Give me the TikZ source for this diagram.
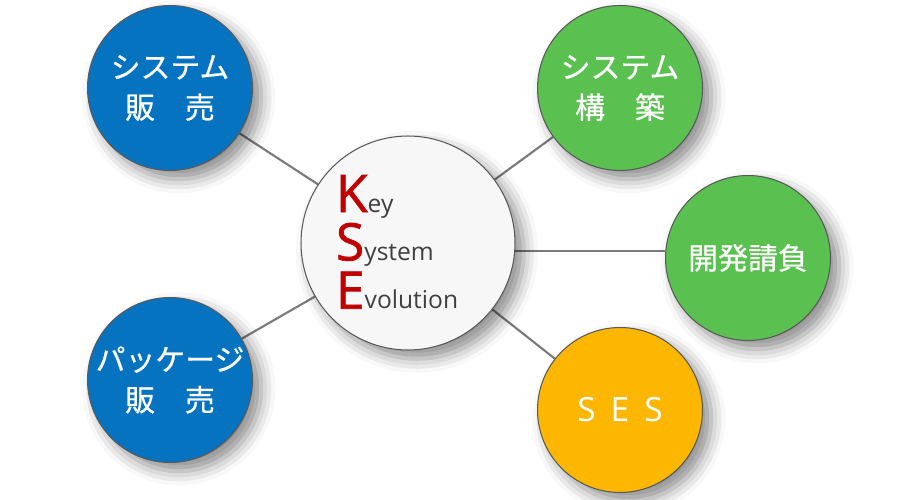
\documentclass[tikz,border=0pt]{standalone}
\usepackage{fontspec}
\setmainfont{Noto Sans CJK JP}
\newfontfamily\jpfont{Noto Sans CJK JP}[FakeBold=0.6]
\newfontfamily\latinfont{Open Sans}
\newfontfamily\latinbig{Open Sans}[FakeBold=1.2]
\usepackage{xcolor}
\usepackage{tikz}
\usetikzlibrary{backgrounds, shadows.blur}
\definecolor{kseblue}{HTML}{0673C0}
\definecolor{ksegreen}{HTML}{5AC150}
\definecolor{kseorange}{HTML}{FDB700}
\definecolor{ksered}{HTML}{C00000}
\definecolor{ksetext}{HTML}{404040}
\definecolor{linkgray}{HTML}{7A7A7A}
\newcommand{\bigletter}[1]{{\color{ksered}\latinbig\fontsize{29.5}{27.5}\selectfont #1}}

\begin{document}
\begin{tikzpicture}[x=0.02cm,y=-0.02cm,
  bubble/.style={circle,draw=black!65,line width=0.6pt,minimum size=3.3cm,inner sep=0pt,
    text=white,align=center,font=\jpfont\fontsize{17}{23}\selectfont,
    blur shadow={shadow xshift=5pt,shadow yshift=-5pt,shadow blur radius=8pt,shadow opacity=45}},
  link/.style={linkgray,line width=1.2pt}]
\useasboundingbox (0,0) rectangle (920,500);
\node[bubble,fill=black!3,minimum size=4.28cm] (kse) at (408,243) {};
\node[align=left,text=ksetext,font=\latinfont\fontsize{14}{27.5}\selectfont,inner sep=0pt] (kseword) at (397,242)
  {\bigletter{K}ey\\ \bigletter{S}ystem\\ \bigletter{E}volution};
\node[bubble,fill=kseblue] (hanbai) at (170,88) {システム\\販　売};
\node[bubble,fill=kseblue] (package) at (170,380) {パッケージ\\販　売};
\node[bubble,fill=ksegreen] (kouchiku) at (620,88) {システム\\構　築};
\node[bubble,fill=ksegreen] (ukeoi) at (748,258) {開発請負};
\node[bubble,fill=kseorange,font=\latinfont\fontsize{19}{23}\selectfont] (ses) at (620,410) {S\hspace{0.45em}E\hspace{0.45em}S};
\begin{scope}[on background layer]
\draw[link] (kse) -- (hanbai);
\draw[link] (kse) -- (package);
\draw[link] (kse) -- (kouchiku);
\draw[link] (kse.center) ++(0,8) coordinate (kseright) (kseright) -- (ukeoi.west |- kseright);
\draw[link] (kse) -- (ses);
\end{scope}
\end{tikzpicture}
\end{document}
